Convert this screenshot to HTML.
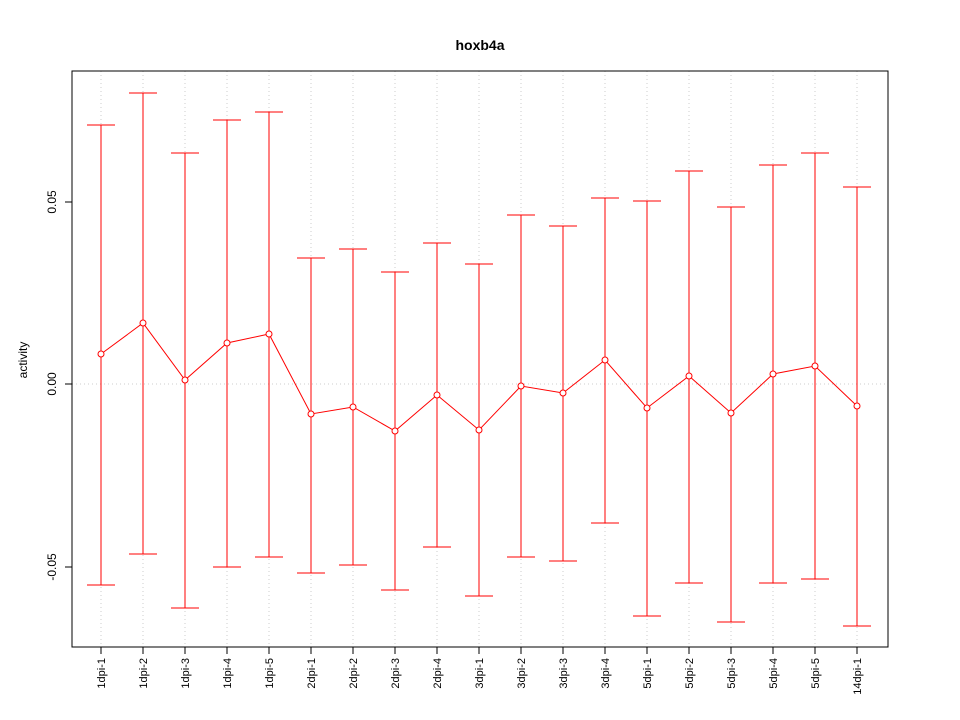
<!DOCTYPE html>
<html><head><meta charset="utf-8"><style>body{margin:0;background:#fff}svg{display:block}text{font-family:"Liberation Sans",sans-serif}</style></head>
<body>
<svg width="960" height="720" xmlns="http://www.w3.org/2000/svg">
<rect width="960" height="720" fill="#fff"/>
<text x="480" y="50" text-anchor="middle" font-size="14" font-weight="bold">hoxb4a</text>
<g stroke="#ccc" stroke-dasharray="1,3">
<line x1="72" y1="384" x2="888" y2="384"/>
<line x1="101" y1="71" x2="101" y2="647"/><line x1="143" y1="71" x2="143" y2="647"/><line x1="185" y1="71" x2="185" y2="647"/><line x1="227" y1="71" x2="227" y2="647"/><line x1="269" y1="71" x2="269" y2="647"/><line x1="311" y1="71" x2="311" y2="647"/><line x1="353" y1="71" x2="353" y2="647"/><line x1="395" y1="71" x2="395" y2="647"/><line x1="437" y1="71" x2="437" y2="647"/><line x1="479" y1="71" x2="479" y2="647"/><line x1="521" y1="71" x2="521" y2="647"/><line x1="563" y1="71" x2="563" y2="647"/><line x1="605" y1="71" x2="605" y2="647"/><line x1="647" y1="71" x2="647" y2="647"/><line x1="689" y1="71" x2="689" y2="647"/><line x1="731" y1="71" x2="731" y2="647"/><line x1="773" y1="71" x2="773" y2="647"/><line x1="815" y1="71" x2="815" y2="647"/><line x1="857" y1="71" x2="857" y2="647"/>
</g>
<g stroke="#f00" fill="none">
<path d="M101 125V585M87 125H115M87 585H115"/>
<path d="M143 93V554M129 93H157M129 554H157"/>
<path d="M185 153V608M171 153H199M171 608H199"/>
<path d="M227 120V567M213 120H241M213 567H241"/>
<path d="M269 112V557M255 112H283M255 557H283"/>
<path d="M311 258V573M297 258H325M297 573H325"/>
<path d="M353 249V565M339 249H367M339 565H367"/>
<path d="M395 272V590M381 272H409M381 590H409"/>
<path d="M437 243V547M423 243H451M423 547H451"/>
<path d="M479 264V596M465 264H493M465 596H493"/>
<path d="M521 215V557M507 215H535M507 557H535"/>
<path d="M563 226V561M549 226H577M549 561H577"/>
<path d="M605 198V523M591 198H619M591 523H619"/>
<path d="M647 201V616M633 201H661M633 616H661"/>
<path d="M689 171V583M675 171H703M675 583H703"/>
<path d="M731 207V622M717 207H745M717 622H745"/>
<path d="M773 165V583M759 165H787M759 583H787"/>
<path d="M815 153V579M801 153H829M801 579H829"/>
<path d="M857 187V626M843 187H871M843 626H871"/>
<polyline points="101,354 143,323 185,380 227,343 269,334 311,414 353,407 395,431 437,395 479,430 521,386 563,393 605,360 647,408 689,376 731,413 773,374 815,366 857,406"/>
</g>
<g stroke="#f00" fill="#fff">
<circle cx="101" cy="354" r="3"/><circle cx="143" cy="323" r="3"/><circle cx="185" cy="380" r="3"/><circle cx="227" cy="343" r="3"/><circle cx="269" cy="334" r="3"/><circle cx="311" cy="414" r="3"/><circle cx="353" cy="407" r="3"/><circle cx="395" cy="431" r="3"/><circle cx="437" cy="395" r="3"/><circle cx="479" cy="430" r="3"/><circle cx="521" cy="386" r="3"/><circle cx="563" cy="393" r="3"/><circle cx="605" cy="360" r="3"/><circle cx="647" cy="408" r="3"/><circle cx="689" cy="376" r="3"/><circle cx="731" cy="413" r="3"/><circle cx="773" cy="374" r="3"/><circle cx="815" cy="366" r="3"/><circle cx="857" cy="406" r="3"/>
</g>
<rect x="72" y="71" width="816" height="576" fill="none" stroke="#000"/>
<g stroke="#000">
<line x1="72" y1="202" x2="65" y2="202"/><line x1="72" y1="384" x2="65" y2="384"/><line x1="72" y1="567" x2="65" y2="567"/>
<path d="M101 647V654M143 647V654M185 647V654M227 647V654M269 647V654M311 647V654M353 647V654M395 647V654M437 647V654M479 647V654M521 647V654M563 647V654M605 647V654M647 647V654M689 647V654M731 647V654M773 647V654M815 647V654M857 647V654"/>
</g>
<g font-size="12" text-anchor="middle">
<text transform="translate(56,202) rotate(-90)">0.05</text>
<text transform="translate(56,384) rotate(-90)">0.00</text>
<text transform="translate(56,567) rotate(-90)">-0.05</text>
<text transform="translate(27,360) rotate(-90)">activity</text>
</g>
<g font-size="11" text-anchor="end">
<text transform="translate(105,658) rotate(-90)">1dpi-1</text>
<text transform="translate(147,658) rotate(-90)">1dpi-2</text>
<text transform="translate(189,658) rotate(-90)">1dpi-3</text>
<text transform="translate(231,658) rotate(-90)">1dpi-4</text>
<text transform="translate(273,658) rotate(-90)">1dpi-5</text>
<text transform="translate(315,658) rotate(-90)">2dpi-1</text>
<text transform="translate(357,658) rotate(-90)">2dpi-2</text>
<text transform="translate(399,658) rotate(-90)">2dpi-3</text>
<text transform="translate(441,658) rotate(-90)">2dpi-4</text>
<text transform="translate(483,658) rotate(-90)">3dpi-1</text>
<text transform="translate(525,658) rotate(-90)">3dpi-2</text>
<text transform="translate(567,658) rotate(-90)">3dpi-3</text>
<text transform="translate(609,658) rotate(-90)">3dpi-4</text>
<text transform="translate(651,658) rotate(-90)">5dpi-1</text>
<text transform="translate(693,658) rotate(-90)">5dpi-2</text>
<text transform="translate(735,658) rotate(-90)">5dpi-3</text>
<text transform="translate(777,658) rotate(-90)">5dpi-4</text>
<text transform="translate(819,658) rotate(-90)">5dpi-5</text>
<text transform="translate(861,658) rotate(-90)">14dpi-1</text>
</g>
</svg>
</body></html>
